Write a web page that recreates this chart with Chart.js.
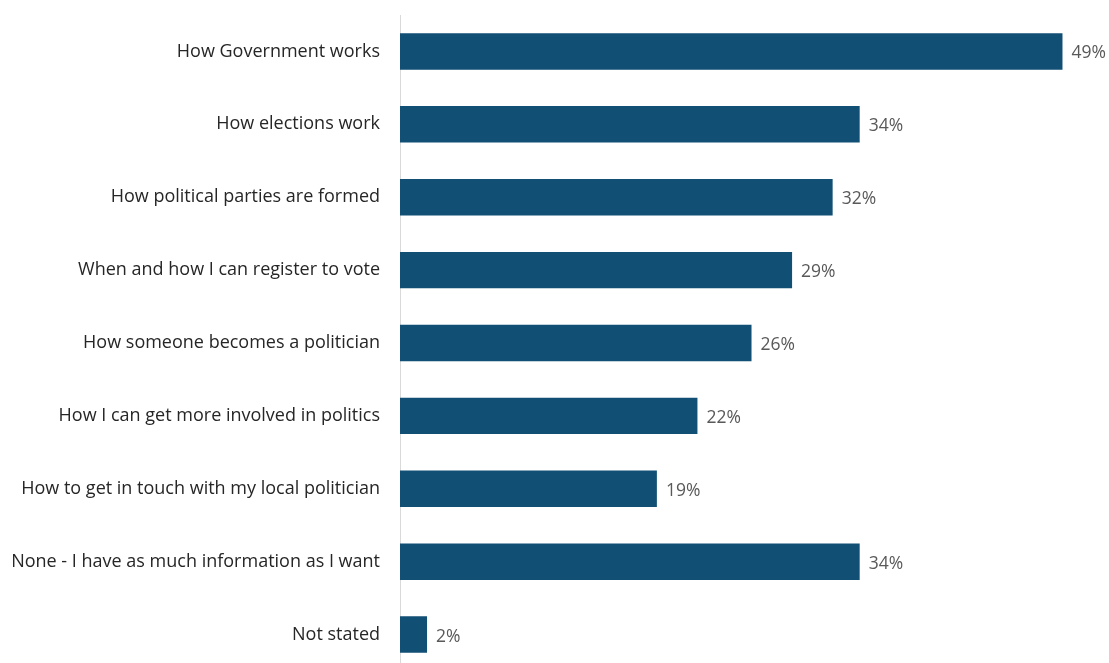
<!DOCTYPE html>
<html>
<head>
<meta charset="utf-8">
<script src="https://cdn.jsdelivr.net/npm/chart.js@4.4.0/dist/chart.umd.min.js"></script>
<style>
html,body{margin:0;padding:0;background:#fff;overflow:hidden;}
#wrap{width:1109px;height:671px;position:relative;}
</style>
</head>
<body>
<div id="wrap"><canvas id="c"></canvas></div>
<script>
const categories = [
  "How Government works",
  "How elections work",
  "How political parties are formed",
  "When and how I can register to vote",
  "How someone becomes a politician",
  "How I can get more involved in politics",
  "How to get in touch with my local politician",
  "None - I have as much information as I want",
  "Not stated"
];
const values = [49, 34, 32, 29, 26, 22, 19, 34, 2];
const valueLabels = ["49%", "34%", "32%", "29%", "26%", "22%", "19%", "34%", "2%"];

const FONT = "'Open Sans', 'Noto Sans', sans-serif";

const labelPlugin = {
  id: 'valueLabels',
  afterDatasetsDraw(chart) {
    const ctx = chart.ctx;
    const meta = chart.getDatasetMeta(0);
    ctx.save();
    ctx.font = "17.5px " + FONT;
    ctx.fillStyle = "#595959";
    ctx.textAlign = "left";
    ctx.textBaseline = "middle";
    meta.data.forEach((bar, i) => {
      ctx.fillText(valueLabels[i], bar.x + 9, bar.y + 2);
    });
    ctx.restore();
  }
};

new Chart(document.getElementById('c'), {
  type: 'bar',
  data: {
    labels: categories,
    datasets: [{
      data: values,
      backgroundColor: '#124f74',
      borderWidth: 0,
      barPercentage: 0.5,
      categoryPercentage: 1.0
    }]
  },
  options: {
    indexAxis: 'y',
    responsive: true,
    maintainAspectRatio: false,
    animation: false,
    layout: { padding: { top: 15, right: 33, bottom: 0, left: 0 } },
    plugins: { legend: { display: false }, tooltip: { enabled: false } },
    scales: {
      x: {
        display: false,
        min: 0,
        max: 50
      },
      y: {
        afterFit(scale) {
          scale.width = 400;
          scale.paddingTop = 0;
          scale.paddingBottom = 0;
        },
        grid: { display: false, drawTicks: false },
        border: { display: true, color: '#d9d9d9', width: 1 },
        ticks: {
          padding: 20,
          color: '#262626',
          font: { family: FONT, size: 18 }
        }
      }
    }
  },
  plugins: [labelPlugin]
});
</script>
</body>
</html>
